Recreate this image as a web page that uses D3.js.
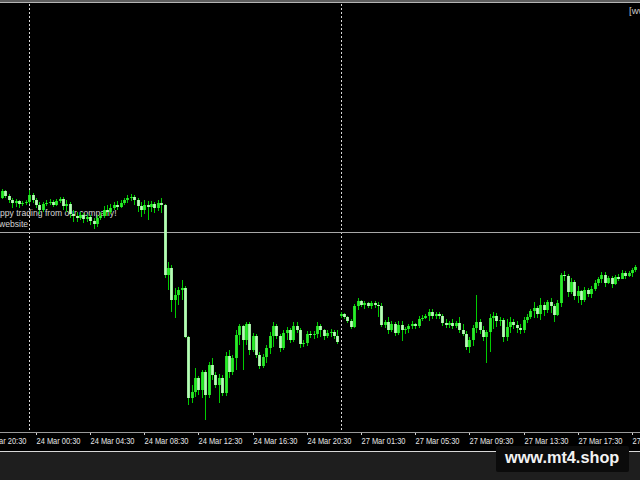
<!DOCTYPE html>
<html>
<head>
<meta charset="utf-8">
<script src="https://cdn.jsdelivr.net/npm/d3@7"></script>
<style>
  html, body { margin: 0; padding: 0; background: #000; overflow: hidden; }
  svg { display: block; }
</style>
</head>
<body>
<svg id="chart" width="640" height="480"></svg>
<script>
// ---- Data (M15 bars, price units) ----
const opens = [
  1242,1249,1244,1240,1237,1239,1236,1237,1238,1245,
  1240,1235,1230,1236,1237,1238,1235,1239,1241,1234,
  1236,1226,1224,1222,1225,1221,1223,1219,1216,1222,
  1224,1230,1228,1232,1235,1233,1237,1240,1242,1243,
  1240,1234,1230,1235,1233,1236,1232,1237,1235,1165,
  1172,1140,1145,1150,1152,1103,1042,1048,1062,1050,
  1068,1045,1075,1065,1055,1062,1047,1084,1068,1082,
  1105,1114,1100,1116,1090,1104,1085,1074,1083,1092,
  1104,1114,1104,1092,1107,1110,1100,1114,1110,1096,
  1097,1106,1105,1106,1114,1110,1104,1107,1108,1104,
  1124,1126,1123,1119,1113,1134,1139,1135,1137,1134,
  1137,1135,1134,1115,1118,1110,1116,1107,1115,1110,
  1111,1114,1116,1114,1121,1122,1124,1128,1124,1126,
  1124,1117,1115,1117,1114,1117,1110,1106,1093,1100,
  1112,1118,1110,1103,1108,1122,1124,1119,1120,1103,
  1113,1118,1115,1112,1110,1120,1123,1129,1132,1126,
  1135,1130,1138,1134,1125,1137,1165,1164,1148,1158,
  1144,1149,1140,1150,1146,1151,1157,1161,1165,1157,
  1162,1156,1163,1161,1167,1164,1167,1170
];
const highs = [
  1251,1250,1246,1242,1241,1240,1239,1240,1250,1247,
  1242,1238,1238,1240,1241,1240,1241,1243,1243,1240,
  1238,1230,1228,1228,1227,1226,1225,1222,1225,1228,
  1234,1235,1236,1238,1239,1240,1242,1245,1246,1245,
  1242,1238,1240,1239,1239,1238,1240,1242,1236,1178,
  1175,1152,1153,1160,1154,1104,1055,1072,1064,1070,
  1070,1078,1082,1068,1066,1065,1088,1090,1085,1110,
  1116,1115,1118,1118,1107,1106,1088,1086,1095,1108,
  1118,1116,1106,1110,1113,1112,1118,1118,1112,1100,
  1109,1109,1109,1118,1116,1111,1110,1111,1110,1110,
  1128,1127,1124,1121,1136,1142,1140,1139,1138,1139,
  1139,1138,1137,1120,1123,1119,1118,1119,1119,1113,
  1116,1119,1117,1124,1125,1126,1131,1131,1128,1128,
  1126,1121,1119,1121,1119,1123,1116,1109,1103,1115,
  1145,1121,1114,1110,1126,1128,1127,1123,1122,1121,
  1123,1121,1119,1116,1123,1126,1131,1138,1134,1142,
  1138,1140,1142,1136,1140,1167,1169,1166,1162,1160,
  1154,1150,1153,1152,1154,1160,1163,1168,1168,1164,
  1164,1165,1166,1170,1169,1169,1172,1175
];
const lows = [
  1241,1242,1237,1232,1233,1232,1234,1235,1236,1237,
  1232,1226,1228,1234,1235,1233,1234,1237,1230,1228,
  1222,1218,1218,1220,1217,1218,1215,1211,1213,1220,
  1222,1224,1226,1230,1230,1232,1235,1237,1239,1235,
  1228,1223,1226,1220,1228,1227,1229,1227,1162,1150,
  1128,1122,1135,1140,1102,1035,1037,1043,1045,1042,
  1020,1042,1060,1052,1037,1044,1044,1062,1065,1070,
  1095,1070,1095,1085,1088,1082,1071,1072,1077,1086,
  1093,1101,1088,1090,1100,1097,1098,1107,1092,1093,
  1094,1102,1101,1102,1103,1100,1102,1103,1101,1096,
  1122,1121,1117,1111,1112,1130,1133,1131,1132,1131,
  1132,1123,1113,1112,1106,1108,1104,1105,1099,1106,
  1107,1111,1111,1112,1119,1121,1119,1121,1121,1121,
  1114,1112,1112,1111,1112,1107,1104,1090,1087,1094,
  1107,1106,1099,1077,1088,1111,1113,1114,1098,1099,
  1107,1111,1107,1106,1107,1117,1121,1122,1122,1120,
  1124,1127,1127,1118,1124,1133,1159,1143,1146,1140,
  1137,1135,1138,1143,1142,1149,1154,1157,1153,1156,
  1152,1155,1159,1161,1161,1163,1163,1168
];
const closes = [
  1249,1244,1240,1237,1239,1236,1237,1238,1245,1240,
  1235,1230,1236,1237,1238,1235,1239,1241,1234,1236,
  1226,1224,1222,1225,1221,1223,1219,1216,1222,1224,
  1230,1228,1232,1235,1233,1237,1240,1242,1243,1240,
  1234,1230,1235,1233,1236,1232,1237,1235,1165,1172,
  1140,1145,1150,1152,1103,1042,1048,1062,1050,1068,
  1045,1075,1065,1055,1062,1047,1084,1068,1082,1105,
  1114,1100,1116,1090,1104,1085,1074,1083,1092,1104,
  1114,1104,1092,1107,1110,1100,1114,1110,1096,1097,
  1106,1105,1106,1114,1110,1104,1107,1108,1104,1098,
  1126,1123,1119,1113,1134,1139,1135,1137,1134,1137,
  1135,1134,1115,1118,1110,1116,1107,1115,1110,1111,
  1114,1116,1114,1121,1122,1124,1128,1124,1126,1124,
  1117,1115,1117,1114,1117,1110,1106,1093,1100,1112,
  1118,1110,1103,1108,1122,1124,1119,1120,1103,1113,
  1118,1115,1112,1110,1120,1123,1129,1132,1126,1135,
  1130,1138,1134,1125,1137,1165,1164,1148,1158,1144,
  1149,1140,1150,1146,1151,1157,1161,1165,1157,1162,
  1156,1163,1161,1167,1164,1167,1170,1173
];
// time-axis tick positions (bar index) and labels
const tickIndex  = [-6, 10, 26, 42, 58, 74, 90, 106, 122, 138, 154, 170, 186];
const tickLabels = ["23 Mar 20:30","24 Mar 00:30","24 Mar 04:30","24 Mar 08:30",
                    "24 Mar 12:30","24 Mar 16:30","24 Mar 20:30","27 Mar 01:30",
                    "27 Mar 05:30","27 Mar 09:30","27 Mar 13:30","27 Mar 17:30","27 Mar 21:30"];
const daySeparators = [8, 100];       // 24 Mar 00:00, 27 Mar 00:00
const hLineLevel = 1208;              // horizontal line price
const priceDomain = [1008, 1436];
const textLines = ["Happy trading from our company!", "website"];

// ---- Drawing ----
const W = 640, H = 480;
const plotTop = 4, plotBottom = 432;
const svg = d3.select("#chart");

svg.append("rect").attr("width", W).attr("height", H).attr("fill", "#000");
svg.append("rect").attr("x",0).attr("y",0).attr("width",W).attr("height",2).attr("fill","#5c5c5c");
svg.append("rect").attr("x",0).attr("y",2).attr("width",W).attr("height",1).attr("fill","#b4b4b4");

const n = closes.length;
const x = d3.scaleLinear().domain([0, n - 1]).range([2.1, 2.1 + 3.386 * (n - 1)]);
const y = d3.scaleLinear().domain(priceDomain).range([plotBottom, plotTop]);

svg.append("defs").append("clipPath").attr("id","plot")
  .append("rect").attr("x",0).attr("y",plotTop).attr("width",W).attr("height",plotBottom-plotTop);

const plot = svg.append("g").attr("clip-path","url(#plot)");

// day separators
plot.selectAll("line.sep").data(daySeparators).join("line")
  .attr("class","sep")
  .attr("x1", d => Math.round(x(d)) + 0.5).attr("x2", d => Math.round(x(d)) + 0.5)
  .attr("y1", plotTop).attr("y2", plotBottom)
  .attr("stroke", "#d8d8d8").attr("stroke-width", 1).attr("stroke-dasharray", "2,2");

// horizontal line
plot.append("line")
  .attr("x1", 0).attr("x2", W)
  .attr("y1", Math.round(y(hLineLevel)) + 0.5).attr("y2", Math.round(y(hLineLevel)) + 0.5)
  .attr("stroke", "#a8a8a8").attr("stroke-width", 1);

// text label
plot.selectAll("text.note").data(textLines).join("text")
  .attr("class","note")
  .attr("x", (d,i) => i === 0 ? -11 : -1)
  .attr("y", (d,i) => 216 + i * 11)
  .attr("fill", "#d4d4d4")
  .attr("font-family", "Liberation Sans, Arial, sans-serif")
  .attr("font-size", 8.6)
  .text(d => d);

// candles
const bars = closes.map((c, i) => ({ i, o: opens[i], h: highs[i], l: lows[i], c }));
const cg = plot.append("g");
cg.selectAll("line.wick").data(bars).join("line")
  .attr("class","wick")
  .attr("x1", d => Math.round(x(d.i)) + 0.5).attr("x2", d => Math.round(x(d.i)) + 0.5)
  .attr("y1", d => y(Math.max(d.h, d.o, d.c))).attr("y2", d => y(Math.min(d.l, d.o, d.c)))
  .attr("stroke", "#00cc00").attr("stroke-width", 1);
cg.selectAll("rect.body").data(bars).join("rect")
  .attr("class","body")
  .attr("x", d => Math.round(x(d.i)) - 0.9)
  .attr("width", 2.8)
  .attr("y", d => y(Math.max(d.o, d.c)))
  .attr("height", d => Math.max(1, Math.abs(y(d.o) - y(d.c))))
  .attr("fill", d => d.c >= d.o ? "#28ee28" : "#b4ffb4");

// top-right label
svg.append("text").attr("x", 629).attr("y", 14)
  .attr("fill", "#c8c8c8").attr("font-family", "Liberation Sans, Arial, sans-serif")
  .attr("font-size", 9.5).text("[www.mt4.shop]");

// time axis
const axis = d3.axisBottom(x)
  .tickValues(tickIndex)
  .tickFormat((d, i) => tickLabels[i])
  .tickSize(3).tickSizeOuter(0);
const ag = svg.append("g").attr("transform", `translate(0,${plotBottom})`).call(axis);
ag.select(".domain").remove();
ag.selectAll(".tick line").attr("stroke", "#cfcfcf");
ag.selectAll(".tick").attr("transform", d => `translate(${Math.round(x(d)) + 0.5},0)`);
ag.selectAll(".tick text")
  .attr("x", 0).attr("y", 11.5).attr("dy", 0)
  .attr("text-anchor", "start")
  .attr("fill", "#e6e6e6")
  .attr("font-family", "Liberation Sans, Arial, sans-serif")
  .attr("font-size", 8.6)
  .attr("textLength", 44).attr("lengthAdjust", "spacingAndGlyphs");
svg.append("rect").attr("x",0).attr("y",plotBottom).attr("width",W).attr("height",1).attr("fill","#9a9a9a");

// bottom strip
svg.append("rect").attr("x",0).attr("y",451).attr("width",W).attr("height",1).attr("fill","#d8d8d8");
svg.append("rect").attr("x",0).attr("y",452).attr("width",W).attr("height",28).attr("fill","#1e1e1e");

// watermark
svg.append("rect").attr("x",496).attr("y",446).attr("width",133).attr("height",26).attr("rx",2).attr("fill","#0b0b0b");
svg.append("text").attr("x", 505).attr("y", 463)
  .attr("fill", "#f2f2f2").attr("font-family", "Liberation Sans, Arial, sans-serif")
  .attr("font-weight", "bold").attr("font-size", 16.3).text("www.mt4.shop");
</script>
</body>
</html>
